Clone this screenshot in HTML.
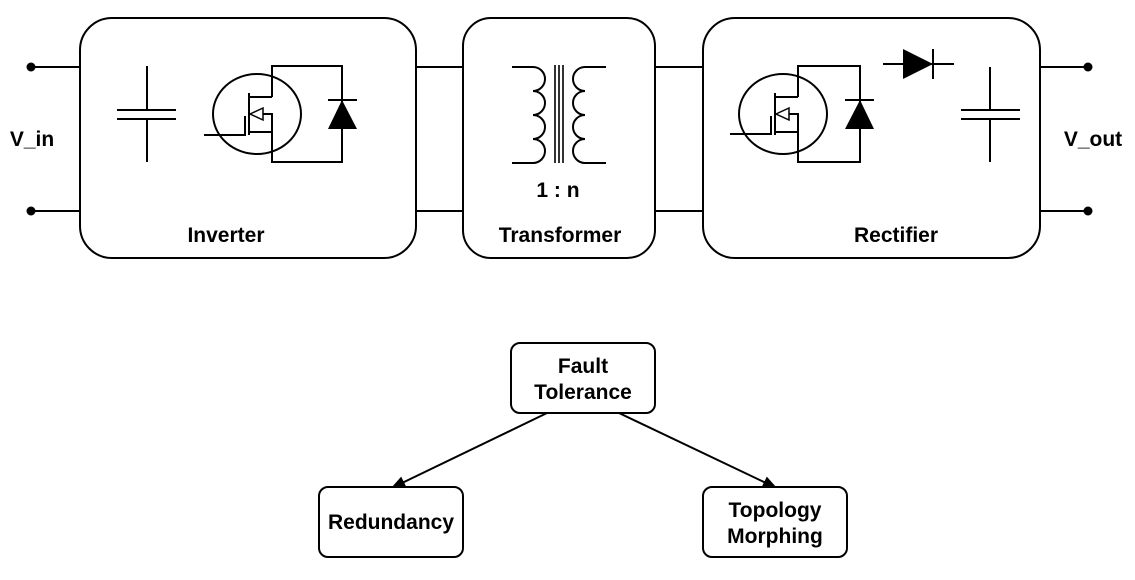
<!DOCTYPE html>
<html><head><style>html,body{margin:0;padding:0;background:#fff}</style></head><body>
<svg width="1135" height="575" viewBox="0 0 1135 575" xmlns="http://www.w3.org/2000/svg" font-family="Liberation Sans, sans-serif" font-weight="bold">
<g fill="none" stroke="#000" stroke-width="2">
<rect x="80" y="18" width="336" height="240" rx="32"/>
<rect x="463" y="18" width="192" height="240" rx="28"/>
<rect x="703" y="18" width="337" height="240" rx="32"/>
<path d="M31 67H80M31 211H80M416 67H463M416 211H463M655 67H703M655 211H703M1040 67H1088M1040 211H1088"/>
<path d="M147 66V110M117 110H176M117 119H176M147 119V162"/>
<ellipse cx="257" cy="114" rx="44" ry="40"/>
<path d="M272 97V66H342V162H272V132H249M272 97H249M249 93V135M204 135H245V116M272 132V114H262"/>
<path d="M342 66V100M342 129V162M328 100H357"/>
<ellipse cx="783" cy="114" rx="44" ry="40"/>
<path d="M798 97V66H860V162H798V132H775M798 97H775M775 93V135M730 134H771V116M798 132V114H788"/>
<path d="M860 66V100M860 129V162M845 100H874"/>
<path d="M883 64H954M933 49V79"/>
<path d="M990 67V110M961 110H1020M961 119H1020M990 119V162"/>
<path d="M512 67H533a12 12 0 0 1 0 24a12 12 0 0 1 0 24a12 12 0 0 1 0 24a12 12 0 0 1 0 24H512"/>
<path d="M606 67H585a12 12 0 0 0 0 24a12 12 0 0 0 0 24a12 12 0 0 0 0 24a12 12 0 0 0 0 24H606"/>
<path d="M555 65V163M559 65V163M563 65V163" stroke-width="1.6"/>
<rect x="511" y="343" width="144" height="70" rx="9"/>
<rect x="319" y="487" width="144" height="70" rx="9"/>
<rect x="703" y="487" width="144" height="70" rx="9"/>
<path d="M547 413L402 483M619 413L766 483"/>
</g>
<g fill="#000">
<circle cx="31" cy="67" r="4.5"/><circle cx="31" cy="211" r="4.5"/>
<circle cx="1088" cy="67" r="4.5"/><circle cx="1088" cy="211" r="4.5"/>
<path d="M342 100L328 129H357Z"/>
<path d="M860 100L845 129H874Z"/>
<path d="M903 49L933 64L903 79Z"/>
<path d="M250 114L263 108V120Z" fill="#fff" stroke="#000" stroke-width="1.5"/>
<path d="M776 114L789 108V120Z" fill="#fff" stroke="#000" stroke-width="1.5"/>
<path d="M393 487L401 478L405 486Z" stroke="#000" stroke-width="1.5"/>
<path d="M775 487L763 486L767 478Z" stroke="#000" stroke-width="1.5"/>
</g>
<g font-size="21" text-anchor="middle" fill="#000">
<text x="32" y="146">V_in</text>
<text x="1093" y="146">V_out</text>
<text x="226" y="242">Inverter</text>
<text x="560" y="242">Transformer</text>
<text x="896" y="242">Rectifier</text>
<text x="558" y="197">1 : n</text>
<text x="583" y="373">Fault</text>
<text x="583" y="399">Tolerance</text>
<text x="391" y="529">Redundancy</text>
<text x="775" y="517">Topology</text>
<text x="775" y="543">Morphing</text>
</g>
</svg>
</body></html>
